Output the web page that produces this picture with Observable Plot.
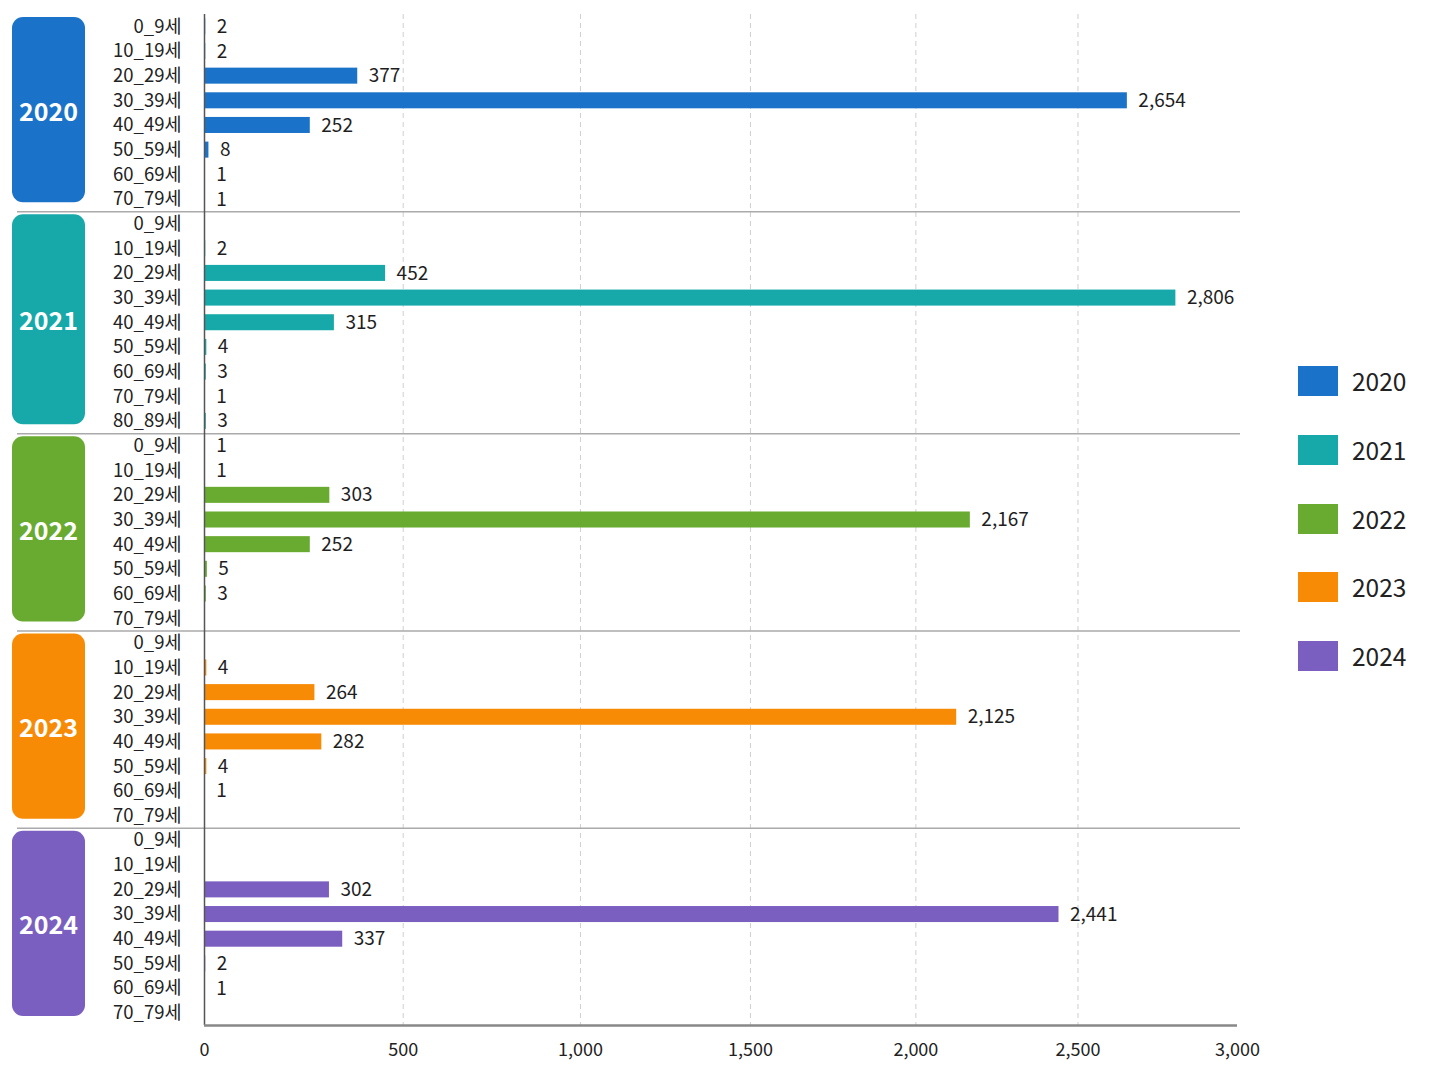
<!DOCTYPE html>
<html><head><meta charset="utf-8">
<script src="https://cdn.jsdelivr.net/npm/d3@7"></script>
<script src="https://cdn.jsdelivr.net/npm/@observablehq/plot@0.6"></script>
<style>
body{margin:0;background:#fff;font-family:"Noto Sans CJK KR","Noto Sans",sans-serif;}
#wrap{position:relative;width:1448px;height:1086px;overflow:hidden;}
#legend{position:absolute;left:1298px;top:366px;}
.item{display:flex;align-items:center;height:30px;margin-bottom:38.75px;}
.sw{width:40px;height:30px;margin-right:14px;}
.lab{font-size:24.5px;color:#222;line-height:30px;}
</style></head><body><div id="wrap"><div id="legend"></div></div>
<script>
const years = ["2020", "2021", "2022", "2023", "2024"];
const colors = ["#1b73c9", "#17a9a9", "#69ab30", "#f88b06", "#7b5fc0"];
const ages8 = ["0_9세", "10_19세", "20_29세", "30_39세", "40_49세", "50_59세", "60_69세", "70_79세"];
const ages9 = ["0_9세", "10_19세", "20_29세", "30_39세", "40_49세", "50_59세", "60_69세", "70_79세", "80_89세"];
const values2020 = [2, 2, 377, 2654, 252, 8, 1, 1];
const values2021 = [null, 2, 452, 2806, 315, 4, 3, 1, 3];
const values2022 = [1, 1, 303, 2167, 252, 5, 3, null];
const values2023 = [null, 4, 264, 2125, 282, 4, 1, null];
const values2024 = [null, null, 302, 2441, 337, 2, 1, null];
const xTicks = [0, 500, 1000, 1500, 2000, 2500, 3000];
const gridTicks = [500, 1000, 1500, 2000, 2500];

const groups = [
  {year: "2020", ages: ages8, values: values2020},
  {year: "2021", ages: ages9, values: values2021},
  {year: "2022", ages: ages8, values: values2022},
  {year: "2023", ages: ages8, values: values2023},
  {year: "2024", ages: ages8, values: values2024}
];
const rows = groups.flatMap(g => g.ages.map((a, i) => ({year: g.year, age: a, key: g.year + "|" + a, value: g.values[i]})));
const keys = rows.map(d => d.key);
const withValue = rows.filter(d => d.value != null);
const firstKeys = groups.map(g => g.year + "|" + g.ages[0]);
const lastKeys = groups.map(g => g.year + "|" + g.ages[g.ages.length - 1]);

const W = 1448, H = 1086, mt = 14, mb = 61, ml = 204, mr = W - 1237;
const pad = 0.35;
const step = (H - mt - mb) / keys.length;
const fmt = d3.format(",");
const font = '"Noto Sans CJK KR","Noto Sans",sans-serif';

const chart = Plot.plot({
  width: W, height: H,
  marginTop: mt, marginBottom: mb, marginLeft: ml, marginRight: mr,
  style: {fontFamily: font, fontSize: "18px", color: "#222", background: "transparent", overflow: "visible"},
  x: {type: "pow", exponent: 0.92, domain: [0, 3000], label: null},
  y: {domain: keys, paddingInner: pad, paddingOuter: pad / 2, round: false, label: null},
  color: {domain: years, range: colors},
  marks: [
    Plot.gridX(gridTicks, {stroke: "#cfcfcf", strokeOpacity: 1, strokeDasharray: "5,4"}),
    Plot.ruleY(firstKeys.slice(1), {dy: -step / 2, stroke: "#aaaaaa", strokeWidth: 1.5, insetLeft: -187, insetRight: -3}),
    Plot.barX(withValue, {x: "value", y: "key", fill: "year"}),
    Plot.text(withValue, {x: "value", y: "key", text: d => fmt(d.value), dx: 11, textAnchor: "start", fill: "#1e1e1e", fontSize: 19}),
    Plot.ruleX([0], {stroke: "#555", strokeWidth: 1.5}),
    Plot.ruleY([keys[keys.length - 1]], {dy: step / 2, stroke: "#888", strokeWidth: 2.5}),
    Plot.axisY({tickSize: 0, tickPadding: 23, tickFormat: d => d.split("|")[1], fontSize: 18.5, label: null}),
    Plot.axisX(xTicks, {tickSize: 0, tickPadding: 18, tickFormat: fmt, fontSize: 18, label: null})
  ]
});

const ys = chart.scale("y");
const bw = step * (1 - pad);
const g = d3.select(chart).append("g");
groups.forEach((gr, i) => {
  const top = ys.apply(firstKeys[i]) - (step - bw) / 2;
  const bot = ys.apply(lastKeys[i]) + bw + (step - bw) / 2;
  g.append("rect").attr("x", 12).attr("y", top + 3).attr("width", 73).attr("height", bot - top - 12)
    .attr("rx", 11).attr("fill", colors[i]);
  g.append("text").attr("x", 48.5).attr("y", (top + 3 + bot - 9) / 2).attr("text-anchor", "middle")
    .attr("dominant-baseline", "central").attr("fill", "#fff").attr("font-size", 25).attr("font-weight", 700)
    .attr("font-family", font).text(gr.year);
});

const wrap = document.getElementById("wrap");
wrap.insertBefore(chart, wrap.firstChild);
const legend = d3.select("#legend");
years.forEach((yr, i) => {
  const it = legend.append("div").attr("class", "item");
  it.append("div").attr("class", "sw").style("background", colors[i]);
  it.append("div").attr("class", "lab").text(yr);
});
</script></body></html>
